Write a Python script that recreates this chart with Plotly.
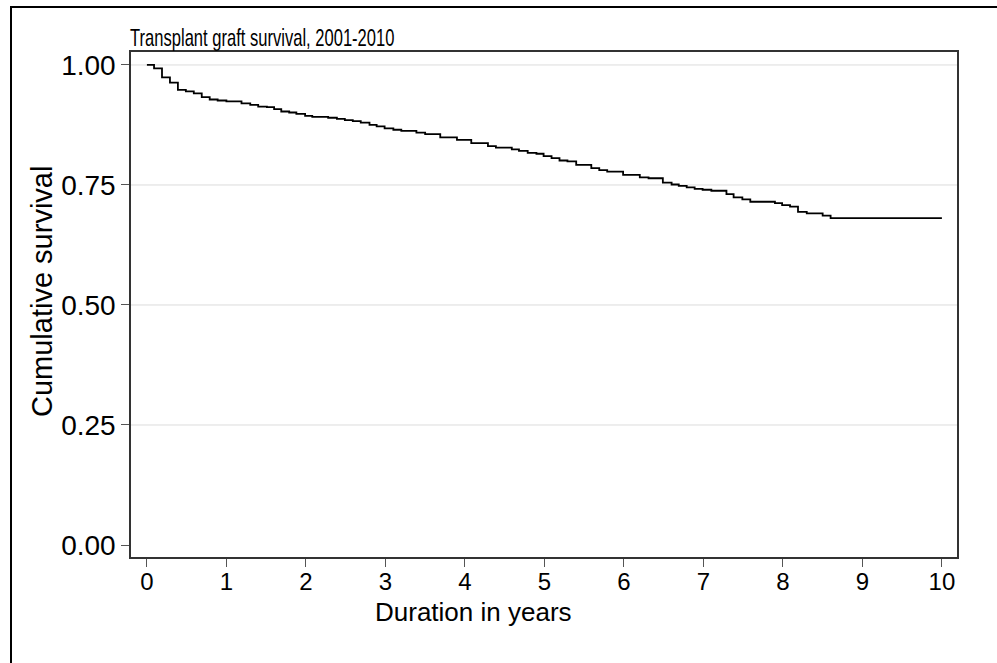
import plotly.graph_objects as go

# Kaplan-Meier step estimates (time of step in years, survival after step)
years = [0, 0.09, 0.19, 0.29, 0.39, 0.49, 0.59, 0.69, 0.79, 0.89, 1.0, 1.19, 1.30, 1.40,
         1.51, 1.60, 1.69, 1.79, 1.88, 1.99, 2.08, 2.28, 2.39, 2.49, 2.59, 2.69, 2.80,
         2.89, 2.99, 3.10, 3.20, 3.39, 3.50, 3.69, 3.90, 4.08, 4.29, 4.39, 4.59, 4.68,
         4.79, 4.90, 4.99, 5.09, 5.19, 5.29, 5.40, 5.59, 5.69, 5.79, 5.99, 6.20, 6.31,
         6.49, 6.60, 6.69, 6.79, 6.89, 6.99, 7.10, 7.29, 7.38, 7.49, 7.59, 7.90, 7.99,
         8.09, 8.19, 8.30, 8.50, 8.60, 10.0]
survival = [1.0, 0.993, 0.974, 0.963, 0.948, 0.945, 0.941, 0.933, 0.928, 0.926, 0.924,
            0.920, 0.917, 0.913, 0.912, 0.908, 0.903, 0.901, 0.898, 0.894, 0.892, 0.890,
            0.8875, 0.885, 0.883, 0.880, 0.875, 0.872, 0.868, 0.865, 0.8625, 0.859, 0.856,
            0.849, 0.844, 0.837, 0.831, 0.828, 0.824, 0.821, 0.817, 0.815, 0.810, 0.806,
            0.801, 0.799, 0.792, 0.785, 0.781, 0.778, 0.771, 0.766, 0.764, 0.755, 0.751,
            0.748, 0.745, 0.742, 0.740, 0.738, 0.731, 0.724, 0.720, 0.715, 0.712, 0.708,
            0.705, 0.694, 0.691, 0.686, 0.681, 0.681]

x_ticks = [0, 1, 2, 3, 4, 5, 6, 7, 8, 9, 10]
y_ticks = [0.0, 0.25, 0.5, 0.75, 1.0]
grid_values = [0.25, 0.5, 0.75, 1.0]

title_text = "Transplant graft survival, 2001-2010"
x_title = "Duration in years"
y_title = "Cumulative survival"

FONT = "Liberation Sans, Arial, sans-serif"

fig = go.Figure()
fig.add_trace(go.Scatter(x=years, y=survival, mode="lines", line_shape="hv",
                         line=dict(color="black", width=1.8), showlegend=False,
                         hoverinfo="x+y"))

W, H = 997, 663
L, R, T, B = 131, 957, 52, 557
pw, ph = R - L, B - T

shapes = []
for g in grid_values:
    shapes.append(dict(type="line", xref="paper", x0=0, x1=1, yref="y", y0=g, y1=g,
                       line=dict(color="#dcdcdc", width=1), layer="below"))
# outer frame (extends beyond the right and bottom edges)
shapes.append(dict(type="rect", xref="paper", yref="paper",
                   x0=(11 - L) / pw, x1=(1010 - L) / pw,
                   y0=(B - 680) / ph, y1=(B - 7) / ph,
                   line=dict(color="black", width=2), fillcolor="rgba(0,0,0,0)"))

annotations = [
    dict(text=title_text, xref="paper", yref="paper", x=0, y=1,
         xanchor="left", yanchor="bottom", showarrow=False,
         font=dict(family=FONT, size=24, color="black"), xshift=-3, yshift=-1),
    dict(text=x_title, xref="paper", yref="paper", x=(473 - L) / pw, y=(B - 612) / ph,
         xanchor="center", yanchor="middle", showarrow=False,
         font=dict(family=FONT, size=26, color="black")),
    dict(text=y_title, xref="paper", yref="paper", x=(42 - L) / pw, y=(B - 292) / ph,
         xanchor="center", yanchor="middle", showarrow=False, textangle=-90,
         font=dict(family=FONT, size=29, color="black")),
]

fig.update_layout(
    width=W, height=H,
    margin=dict(l=L, r=W - R, t=T, b=H - B, pad=0),
    paper_bgcolor="white", plot_bgcolor="white",
    font=dict(family=FONT, size=22, color="black"),
    shapes=shapes,
    annotations=annotations,
)
fig.update_xaxes(range=[-0.2, 10.19], tickvals=x_ticks, ticks="outside", ticklen=8,
                 tickcolor="#555555", tickwidth=1.2, showgrid=False, zeroline=False,
                 showline=True, linecolor="#333333", linewidth=1.5, mirror=True,
                 ticklabelstandoff=-6, tickfont=dict(size=24))
fig.update_yaxes(range=[-0.025, 1.027], tickvals=y_ticks, tickformat=".2f",
                 ticks="outside", ticklen=8, tickcolor="#555555", tickwidth=1.2,
                 showgrid=False, zeroline=False, showline=True, linecolor="#333333",
                 linewidth=1.5, mirror=True, ticklabelstandoff=0,
                 tickfont=dict(size=28))

# the reference title is set in a condensed face; narrow the title text horizontally
post_js = """
document.body.style.margin = '0px';
(function () {
  var gd = document.getElementById('{plot_id}');
  function squeeze() {
    var t = gd.querySelector('.annotation[data-index="0"] text.annotation-text');
    if (!t) { return; }
    if (t.dataset.orig === undefined) { t.dataset.orig = t.getAttribute('transform') || ''; }
    var bb = t.getBBox();
    t.setAttribute('transform', t.dataset.orig + ' translate(' + bb.x + ',0) scale(0.69,1) translate(' + (-bb.x) + ',0)');
  }
  squeeze();
  if (gd.on) { gd.on('plotly_afterplot', squeeze); }
})();
"""

fig.write_html("out.html", config={"displayModeBar": False}, post_script=post_js)
